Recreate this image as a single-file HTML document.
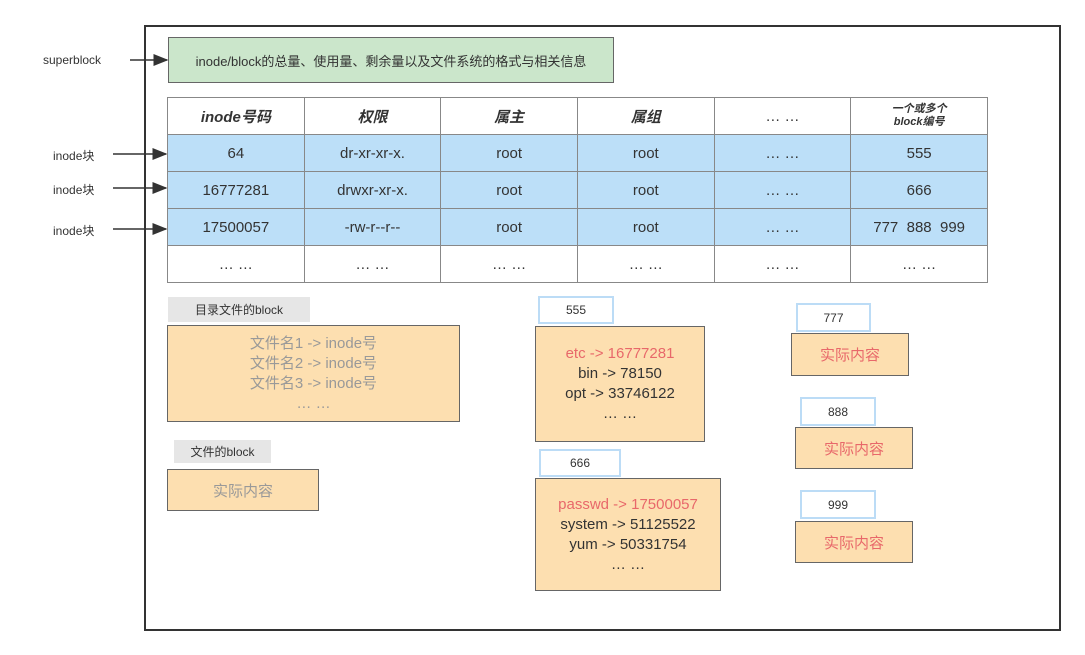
<!DOCTYPE html><html><head><meta charset="utf-8"><style>
body{margin:0;width:1085px;height:655px;background:#fff;position:relative;font-family:"Liberation Sans","Noto Sans CJK SC",sans-serif;color:#333;overflow:hidden}
.a{position:absolute;box-sizing:border-box}
.c{display:flex;align-items:center;justify-content:center;text-align:center}
.or{background:#fddfb0;border:1.5px solid #666}
.lb{background:#fff;border:2px solid #bcdcf6;font-size:12px}
.red{color:#e8686a}
table{border-collapse:collapse;position:absolute;left:167px;top:97px;width:821px;table-layout:fixed}
td{border:1px solid #888;text-align:center;font-size:15px;padding:0;height:36px}
tr.h td{font-style:italic;font-weight:bold;background:#fff}
tr.b td{background:#bcdff8}
</style></head><body>
<div class="a" style="left:144px;top:25px;width:917px;height:606px;border:2px solid #333"></div>
<div class="a c" style="left:168px;top:37px;width:446px;height:46px;background:#cbe6cb;border:1.5px solid #666;font-size:13px">inode/block的总量、使用量、剩余量以及文件系统的格式与相关信息</div>
<svg class="a" style="left:0;top:0" width="1085" height="655">
<defs><marker id="m" markerWidth="10" markerHeight="8" refX="9" refY="4" orient="auto"><path d="M0,0L10,4L0,8z" fill="#333"/></marker></defs>
<g stroke="#333" stroke-width="1.5" marker-end="url(#m)">
<line x1="130" y1="60" x2="167" y2="60"/>
<line x1="113" y1="154" x2="166" y2="154"/>
<line x1="113" y1="188" x2="166" y2="188"/>
<line x1="113" y1="229" x2="166" y2="229"/>
</g></svg>
<div class="a" style="left:43px;top:53px;font-size:12px">superblock</div>
<div class="a" style="left:53px;top:147px;font-size:12px">inode块</div>
<div class="a" style="left:53px;top:181px;font-size:12px">inode块</div>
<div class="a" style="left:53px;top:222px;font-size:12px">inode块</div>
<table>
<tr class="h"><td>inode号码</td><td>权限</td><td>属主</td><td>属组</td><td style="font-style:normal;font-weight:normal">… …</td><td style="font-size:11px;line-height:13px">一个或多个<br>block编号</td></tr>
<tr class="b"><td>64</td><td>dr-xr-xr-x.</td><td>root</td><td>root</td><td>… …</td><td>555</td></tr>
<tr class="b"><td>16777281</td><td>drwxr-xr-x.</td><td>root</td><td>root</td><td>… …</td><td>666</td></tr>
<tr class="b"><td>17500057</td><td>-rw-r--r--</td><td>root</td><td>root</td><td>… …</td><td>777&nbsp; 888&nbsp; 999</td></tr>
<tr><td>… …</td><td>… …</td><td>… …</td><td>… …</td><td>… …</td><td>… …</td></tr>
</table>
<div class="a c" style="left:168px;top:297px;width:142px;height:25px;background:#e6e6e6;font-size:12px">目录文件的block</div>
<div class="a c or" style="left:167px;top:325px;width:293px;height:97px;color:#999;font-size:15px;line-height:20px">文件名1 -&gt; inode号<br>文件名2 -&gt; inode号<br>文件名3 -&gt; inode号<br>… …</div>
<div class="a c" style="left:174px;top:440px;width:97px;height:23px;background:#e6e6e6;font-size:12px">文件的block</div>
<div class="a c or" style="left:167px;top:469px;width:152px;height:42px;color:#999;font-size:15px">实际内容</div>
<div class="a c lb" style="left:538px;top:296px;width:76px;height:28px">555</div>
<div class="a c or" style="left:535px;top:326px;width:170px;height:116px;font-size:15px;line-height:20px"><div><span class="red">etc -&gt; 16777281</span><br>bin -&gt; 78150<br>opt -&gt; 33746122<br>… …</div></div>
<div class="a c lb" style="left:539px;top:449px;width:82px;height:28px">666</div>
<div class="a c or" style="left:535px;top:478px;width:186px;height:113px;font-size:15px;line-height:20px"><div><span class="red">passwd -&gt; 17500057</span><br>system -&gt; 51125522<br>yum -&gt; 50331754<br>… …</div></div>
<div class="a c lb" style="left:796px;top:303px;width:75px;height:29px">777</div>
<div class="a c or red" style="left:791px;top:333px;width:118px;height:43px;font-size:15px">实际内容</div>
<div class="a c lb" style="left:800px;top:397px;width:76px;height:29px">888</div>
<div class="a c or red" style="left:795px;top:427px;width:118px;height:42px;font-size:15px">实际内容</div>
<div class="a c lb" style="left:800px;top:490px;width:76px;height:29px">999</div>
<div class="a c or red" style="left:795px;top:521px;width:118px;height:42px;font-size:15px">实际内容</div>
</body></html>
